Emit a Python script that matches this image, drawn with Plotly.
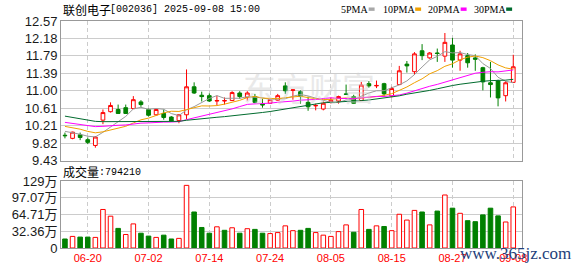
import plotly.graph_objects as go
import pandas as pd

# ---------------- data ----------------
dates = ["06-17", "06-18", "06-19", "06-20", "06-23", "06-24", "06-25", "06-26", "06-27", "06-30",
         "07-01", "07-02", "07-03", "07-04", "07-07", "07-08", "07-09", "07-10", "07-11", "07-14",
         "07-15", "07-16", "07-17", "07-18", "07-21", "07-22", "07-23", "07-24", "07-25", "07-28",
         "07-29", "07-30", "07-31", "08-01", "08-04", "08-05", "08-06", "08-07", "08-08", "08-11",
         "08-12", "08-13", "08-14", "08-15", "08-18", "08-19", "08-20", "08-21", "08-22", "08-25",
         "08-26", "08-27", "08-28", "08-29", "09-01", "09-02", "09-03", "09-04", "09-05", "09-08"]

opens = [10.00, 9.93, 10.01, 9.90, 9.77, 10.34, 10.53, 10.58, 10.62, 10.60,
         10.75, 10.58, 10.46, 10.49, 10.41, 10.33, 10.46, 11.09, 10.90, 10.89,
         10.77, 10.77, 10.78, 10.95, 10.85, 10.87, 10.71, 10.72, 10.79, 11.11,
         11.01, 10.98, 10.74, 10.66, 10.59, 10.74, 10.77, 10.93, 10.87, 10.78,
         11.16, 11.11, 11.16, 10.88, 11.14, 11.60, 11.43, 11.90, 11.74, 11.85,
         11.78, 12.03, 11.69, 11.79, 11.74, 11.52, 11.18, 11.22, 10.89, 11.19]
highs = [10.06, 10.08, 10.06, 9.95, 9.98, 10.58, 10.74, 10.69, 10.69, 10.88,
         10.79, 10.60, 10.60, 10.58, 10.43, 10.47, 11.48, 11.19, 10.98, 10.94,
         10.89, 10.85, 10.99, 10.99, 10.99, 10.93, 10.82, 10.83, 10.93, 11.19,
         11.03, 11.01, 10.87, 10.71, 10.76, 10.85, 10.89, 11.14, 10.91, 11.20,
         11.22, 11.23, 11.18, 11.09, 11.56, 11.67, 11.87, 12.05, 11.87, 11.95,
         12.30, 12.19, 11.90, 11.85, 11.82, 11.54, 11.65, 11.25, 11.22, 11.81]
lows = [9.93, 9.91, 9.89, 9.80, 9.72, 10.25, 10.51, 10.49, 10.48, 10.59,
        10.64, 10.42, 10.44, 10.35, 10.30, 10.27, 10.36, 10.93, 10.76, 10.75,
        10.67, 10.69, 10.77, 10.82, 10.78, 10.72, 10.62, 10.71, 10.78, 10.93,
        10.80, 10.71, 10.55, 10.56, 10.56, 10.71, 10.71, 10.91, 10.71, 10.78,
        11.07, 11.06, 10.87, 10.85, 11.14, 11.41, 11.36, 11.69, 11.72, 11.65,
        11.65, 11.52, 11.45, 11.52, 11.45, 11.01, 10.85, 10.65, 10.76, 11.18]
closes = [9.99, 10.07, 9.95, 9.84, 9.96, 10.51, 10.67, 10.49, 10.49, 10.80,
          10.69, 10.45, 10.58, 10.40, 10.32, 10.46, 11.09, 10.95, 10.87, 10.77,
          10.78, 10.78, 10.96, 10.87, 10.95, 10.74, 10.68, 10.80, 10.89, 11.00,
          11.02, 10.87, 10.64, 10.67, 10.72, 10.79, 10.87, 10.92, 10.72, 11.13,
          11.11, 11.12, 10.93, 11.05, 11.45, 11.56, 11.83, 11.79, 11.85, 11.84,
          12.09, 11.69, 11.83, 11.63, 11.71, 11.20, 11.14, 10.84, 11.18, 11.54]

# closes before the visible window (estimated from the MA starting levels)
prior_closes = [10.95, 10.88, 10.80, 10.72, 10.70, 10.66, 10.62, 10.60, 10.58, 10.59,
                10.52, 10.45, 10.40, 10.36, 10.38, 10.35, 10.33, 10.36, 10.32, 10.33,
                10.35, 10.30, 10.33, 10.28, 10.29, 10.20, 10.15, 10.06, 10.04]

# volume in 万 shares
volumes_wan = [17.4, 22.4, 21.1, 21.1, 20.5, 74.5, 61.5, 37.9, 26.1, 46.6,
               28.6, 23.0, 20.5, 24.8, 17.4, 18.6, 121.1, 69.6, 39.7, 28.6,
               41.0, 34.2, 39.1, 28.6, 37.3, 36.0, 28.6, 27.9, 29.8, 42.8,
               33.5, 34.2, 37.9, 29.8, 24.8, 22.4, 31.7, 44.7, 30.4, 74.5,
               36.0, 42.8, 41.6, 33.5, 65.2, 54.0, 72.7, 69.6, 44.7, 71.4,
               102.5, 77.0, 67.1, 52.8, 50.9, 64.0, 77.0, 62.1, 50.3, 79.421]
# 1 = red (hollow) bar, 0 = green (filled) bar, as drawn
vol_up = [0, 1, 0, 0, 1, 1, 1, 0, 1, 1, 0, 0, 1, 0, 0, 1, 1, 0, 0, 0,
          1, 0, 1, 0, 1, 0, 0, 1, 1, 1, 1, 0, 0, 1, 1, 1, 1, 1, 0, 1,
          0, 1, 0, 1, 1, 1, 1, 0, 1, 0, 1, 0, 1, 0, 0, 0, 0, 0, 1, 1]

tick_dates = ["06-20", "07-02", "07-14", "07-24", "08-05", "08-15", "08-27", "09-08"]
price_ticks = ["12.57", "12.18", "11.79", "11.39", "11.00", "10.61", "10.21", "9.82", "9.43"]
vol_tick_vals = [0, 323575, 647150, 970725, 1294300]
vol_tick_text = ["0", "32.36万", "64.71万", "97.07万", "129万"]

ma_periods = [5, 10, 20, 30]
ma_names = ["5PMA", "10PMA", "20PMA", "30PMA"]
ma_colors = ["#9a9a9a", "#f0a000", "#ff00ff", "#006b2e"]
legend_sq_colors = ["#a8a8a8", "#f0a000", "#ff00ff", "#006b2e"]

title_cn = "联创电子"
title_rest = "[002036] 2025-09-08 15:00"

RED = "#ff0000"
GREEN = "#008000"

# ---------------- figure ----------------
volumes = [v * 10000 for v in volumes_wan]
all_close = pd.Series(prior_closes + closes)

fig = go.Figure()

fig.add_trace(go.Candlestick(
    x=dates, open=opens, high=highs, low=lows, close=closes,
    increasing=dict(line=dict(color=RED, width=1), fillcolor="white"),
    decreasing=dict(line=dict(color=GREEN, width=1), fillcolor=GREEN),
    whiskerwidth=0, xaxis="x", yaxis="y", showlegend=False, hoverinfo="skip",
))

for p, name, col in zip(ma_periods, ma_names, ma_colors):
    ma = all_close.rolling(p).mean().iloc[len(prior_closes):].tolist()
    fig.add_trace(go.Scatter(x=dates, y=ma, mode="lines", name=name,
                             line=dict(color=col, width=1), xaxis="x", yaxis="y",
                             showlegend=False, hoverinfo="skip"))

fig.add_trace(go.Bar(
    x=dates, y=volumes, width=0.6,
    marker=dict(color=["white" if u else GREEN for u in vol_up],
                line=dict(color=[RED if u else GREEN for u in vol_up], width=1)),
    xaxis="x2", yaxis="y2", showlegend=False, hoverinfo="skip",
))

L, R, T, B = 56, 56, 21, 20
W, H = 578, 276
ph = H - T - B
pw = W - L - R


def py(ypx):
    return (H - B - ypx) / ph


def px(xpx):
    return (xpx - L) / pw


xrange = [-0.52, 60.15]
axis_common = dict(showline=True, mirror=True, linecolor="#999999", linewidth=1,
                   zeroline=False, ticks="")

fig.update_layout(
    width=W, height=H, margin=dict(l=L, r=R, t=T, b=B),
    paper_bgcolor="white", plot_bgcolor="white", hovermode=False,
    xaxis=dict(domain=[0, 1], anchor="y", type="category", categoryorder="array",
               categoryarray=dates, range=xrange, tickvals=tick_dates,
               showticklabels=False, showgrid=True, gridcolor="#cccccc",
               griddash="4px,3px", gridwidth=1, rangeslider=dict(visible=False),
               **axis_common),
    yaxis=dict(domain=[py(165.5), 1], anchor="x", range=[9.43, 12.57],
               tickvals=[float(t) for t in price_ticks], ticktext=price_ticks,
               showgrid=True, gridcolor="#cccccc", gridwidth=1,
               tickfont=dict(family="Liberation Sans", size=13, color="#1a1a1a"),
               **axis_common),
    xaxis2=dict(domain=[0, 1], anchor="y2", type="category", categoryorder="array",
                categoryarray=dates, range=xrange, tickvals=tick_dates,
                showgrid=True, gridcolor="#cccccc", griddash="4px,3px", gridwidth=1,
                tickfont=dict(family="Liberation Sans", size=11, color=RED),
                **axis_common),
    yaxis2=dict(domain=[0, py(186.7)], anchor="x2", range=[0, 1294300],
                tickvals=vol_tick_vals, ticktext=vol_tick_text,
                showgrid=True, gridcolor="#cccccc", gridwidth=1,
                tickfont=dict(family="Liberation Sans, Noto Sans CJK SC", size=13, color="#1a1a1a"),
                **axis_common),
    bargap=0.4,
)

ann = []
# title
ann.append(dict(text=title_cn, x=px(56), y=py(9), xref="paper", yref="paper",
                xanchor="left", yanchor="middle", showarrow=False,
                font=dict(family="Noto Sans CJK SC", size=12, color="#000")))
ann.append(dict(text=title_rest, x=px(104), y=py(9.5), xref="paper", yref="paper",
                xanchor="left", yanchor="middle", showarrow=False,
                font=dict(family="Liberation Mono", size=10, color="#000")))
# legend
leg_x = [337, 379, 425, 471]
sq_x = [367, 414, 460, 506]
for name, c, lx, sx in zip(ma_names, legend_sq_colors, leg_x, sq_x):
    ann.append(dict(text=name, x=px(lx), y=py(9.5), xref="paper", yref="paper",
                    xanchor="left", yanchor="middle", showarrow=False,
                    font=dict(family="Liberation Serif", size=10, color="#000")))
    fig.add_shape(type="rect", xref="paper", yref="paper",
                  x0=px(sx), x1=px(sx + 6), y0=py(10.5), y1=py(7),
                  fillcolor=c, line=dict(width=0))
# volume header
ann.append(dict(text="成交量", x=px(56), y=py(177), xref="paper", yref="paper",
                xanchor="left", yanchor="middle", showarrow=False,
                font=dict(family="Noto Sans CJK SC", size=12, color="#000")))
ann.append(dict(text=":" + str(int(round(volumes[-1]))), x=px(92), y=py(177.5),
                xref="paper", yref="paper", xanchor="left", yanchor="middle",
                showarrow=False, font=dict(family="Liberation Mono", size=10, color="#000")))
# watermarks
ann.append(dict(text="东方财富", x=px(238), y=py(89), xref="paper", yref="paper",
                xanchor="left", yanchor="middle", showarrow=False, opacity=0.45,
                font=dict(family="Noto Sans CJK SC", size=33, color="#d0d0d0")))
ann.append(dict(text="www.365jz.com", x=px(457), y=py(262), xref="paper", yref="paper",
                xanchor="left", yanchor="middle", showarrow=False,
                font=dict(family="Liberation Serif", size=17, color="#23407a")))
fig.update_layout(annotations=ann)

fig.write_html("out.html")
